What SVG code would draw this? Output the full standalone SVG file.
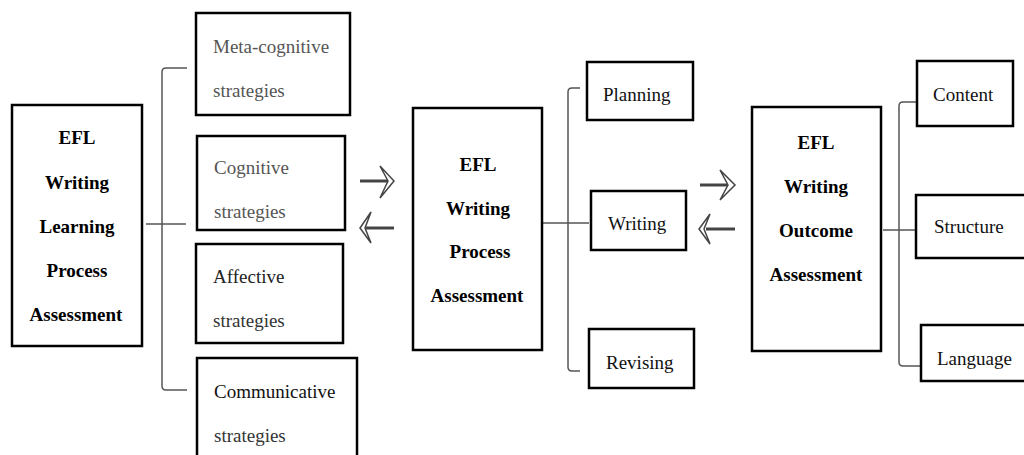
<svg xmlns="http://www.w3.org/2000/svg" width="1024" height="455" viewBox="0 0 1024 455">
<style>
.box{fill:#fff;stroke:#000;stroke-width:2.5}
.b{font-family:"Liberation Serif",serif;font-weight:bold;font-size:19px;fill:#000;text-anchor:middle}
.r{font-family:"Liberation Serif",serif;font-size:19px;fill:#333}
.c{fill:none;stroke:#555;stroke-width:1.5}
.ah{fill:#fff;stroke:#444;stroke-width:1.5;stroke-linejoin:miter}
.sh{stroke:#444;stroke-width:3}
</style>
<rect width="1024" height="455" fill="#fff"/>
<g id="connectors">
<path class="c" d="M187,68 H166 Q162,68 162,72 V386 Q162,390 166,390 H187"/>
<path class="c" d="M146,224 H186"/>
<path class="c" d="M580,88 H572 Q568,88 568,92 V367 Q568,371 572,371 H580"/>
<path class="c" d="M543,223 H589"/>
<path class="c" d="M920,102 H903 Q899,102 899,106 V362 Q899,366 903,366 H920"/>
<path class="c" d="M883,230 H917"/>
<g id="arrows1">
<line class="sh" x1="360" y1="181" x2="388" y2="181"/>
<polygon class="ah" points="380,166 394,181 380,198 388,181"/>
<line class="sh" x1="366" y1="228" x2="394" y2="228"/>
<polygon class="ah" points="371,212 360,228 371,243 365,228"/>
</g>
<g id="arrows2">
<line class="sh" x1="700" y1="185" x2="728" y2="185"/>
<polygon class="ah" points="720,170 735,185 720,200 728,185"/>
<line class="sh" x1="706" y1="229" x2="735" y2="229"/>
<polygon class="ah" points="710,214 699,229 710,244 704,229"/>
</g>
</g>
<g id="learning">
<rect class="box" x="12" y="105" width="130" height="241"/>
<text class="b" x="77" y="144">EFL</text>
<text class="b" x="77" y="189">Writing</text>
<text class="b" x="77" y="233">Learning</text>
<text class="b" x="77" y="277">Process</text>
<text class="b" x="76" y="321">Assessment</text>
</g>
<g id="metacognitive">
<rect class="box" x="196" y="13" width="154" height="102"/>
<text class="r" x="213" y="53" style="fill:#555">Meta-cognitive</text>
<text class="r" x="213" y="97" style="fill:#555">strategies</text>
</g>
<g id="cognitive">
<rect class="box" x="197" y="136" width="148" height="94"/>
<text class="r" x="214" y="174" style="fill:#555">Cognitive</text>
<text class="r" x="214" y="218" style="fill:#555">strategies</text>
</g>
<g id="affective">
<rect class="box" x="196" y="244" width="147" height="99"/>
<text class="r" x="213" y="283" style="fill:#222">Affective</text>
<text class="r" x="213" y="327">strategies</text>
</g>
<g id="communicative">
<rect class="box" x="197" y="358" width="160" height="100"/>
<text class="r" x="214" y="398" style="fill:#111">Communicative</text>
<text class="r" x="214" y="442">strategies</text>
</g>
<g id="process">
<rect class="box" x="413" y="108" width="129" height="242"/>
<text class="b" x="478" y="171">EFL</text>
<text class="b" x="478" y="215">Writing</text>
<text class="b" x="480" y="258">Process</text>
<text class="b" x="477" y="302">Assessment</text>
</g>
<g id="planning">
<rect class="box" x="587" y="62" width="106" height="58"/>
<text class="r" x="603" y="101" style="fill:#111">Planning</text>
</g>
<g id="writing">
<rect class="box" x="591" y="191" width="95" height="59"/>
<text class="r" x="608" y="230" style="fill:#111">Writing</text>
</g>
<g id="revising">
<rect class="box" x="589" y="329" width="105" height="59"/>
<text class="r" x="606" y="369" style="fill:#111">Revising</text>
</g>
<g id="outcome">
<rect class="box" x="752" y="107" width="129" height="244"/>
<text class="b" x="816" y="149">EFL</text>
<text class="b" x="816" y="193">Writing</text>
<text class="b" x="816" y="237">Outcome</text>
<text class="b" x="816" y="281">Assessment</text>
</g>
<g id="content">
<rect class="box" x="917" y="61" width="96" height="65"/>
<text class="r" x="933" y="101" style="fill:#111">Content</text>
</g>
<g id="structure">
<rect class="box" x="916" y="195" width="112" height="63"/>
<text class="r" x="934" y="233" style="fill:#111">Structure</text>
</g>
<g id="language">
<rect class="box" x="921" y="325" width="107" height="56"/>
<text class="r" x="937" y="365" style="fill:#111">Language</text>
</g>
</svg>
